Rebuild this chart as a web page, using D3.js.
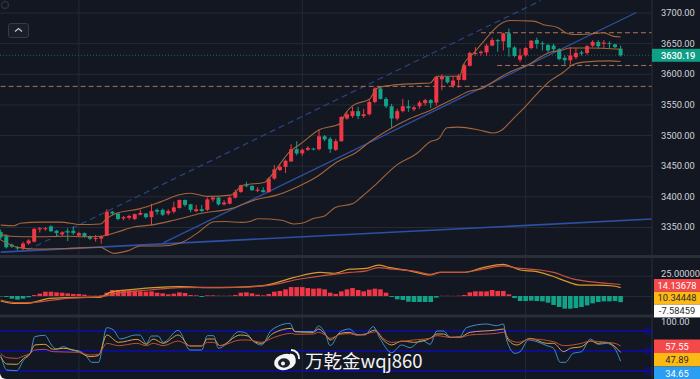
<!DOCTYPE html>
<html>
<head>
<meta charset="utf-8">
<script src="https://cdn.jsdelivr.net/npm/d3@7"></script>
<style>
  html, body { margin: 0; padding: 0; background: #ffffff; overflow: hidden; }
  text { font-family: Roboto, "Liberation Sans", sans-serif; }
</style>
</head>
<body>
<div id="container"></div>
<script>
// candles, red = up, green = down
let openPrice = [
  3342,3335,3321,3317,3315,3323,3326,3346,3347,3351,
  3344,3338,3343,3344,3336,3340,3335,3331,3331,3336,
  3375,3372,3364,3365,3363,3370,3372,3366,3378,3378,
  3372,3375,3381,3394,3387,3376,3379,3378,3395,3398,
  3387,3388,3398,3407,3418,3417,3409,3410,3407,3429,
  3443,3448,3457,3477,3470,3476,3478,3477,3498,3494,
  3476,3490,3527,3531,3539,3531,3534,3554,3576,3559,
  3547,3527,3539,3547,3542,3547,3552,3557,3553,3591,
  3595,3580.5,3590,3590,3613,3633,3634,3635,3646,3655,
  3653,3666,3643,3623,3630,3642,3655,3650,3647,3646,
  3640,3626,3622,3627,3635,3634,3646,3652,3649,3650,
  3648,3641
];
let closePrice = [
  3333,3317,3318,3315,3323,3328,3347,3348,3348,3343,
  3340,3341,3341,3340,3340,3334,3331,3332,3335,3375,
  3372,3363,3366,3368,3371,3373,3366,3376,3375,3370,
  3376,3382,3394,3386,3378,3379,3376,3395,3398,3387,
  3390,3398,3407,3418,3417,3410,3411,3407,3429,3444,
  3448,3458,3477,3470,3476,3479,3477,3498,3493,3477,
  3490,3529.5,3534,3539,3531,3534,3554,3576,3559,3547,
  3527,3539,3547,3544,3545,3553,3557,3552,3595,3595,
  3586,3589,3597,3614,3634,3634,3636,3646,3655,3653,
  3666,3643,3629,3630,3642,3654,3649,3649,3638,3640,
  3624,3622,3630,3634,3633,3645,3652,3645,3651,3649,
  3643.5,3630.19
];
let highPrice = [
  3346,3338,3323,3319,3326,3330,3348,3350,3350,3353,
  3345,3343,3348,3351,3342,3341,3336,3337,3336,3379,
  3376,3373,3368,3370,3372,3378,3373,3388,3380,3380,
  3379,3391,3395,3395,3388,3386,3386,3398,3399,3399,
  3394,3400,3411,3419,3424,3418,3415,3415,3431,3451,
  3451,3460,3485,3490,3478,3482,3479,3509,3500,3497,
  3494,3531,3538,3546,3546,3543,3559,3578,3580,3562,
  3551,3543,3559,3557,3548,3556,3559,3559,3596,3599,
  3596,3596,3600,3616,3636,3643.5,3638,3649,3659,3657,
  3667,3674,3645,3641,3643.5,3655,3659,3653,3649,3649,
  3642,3630,3643.5,3642,3638,3647,3655,3655,3655,3653,
  3649,3646
];
let lowPrice = [
  3329,3315,3316,3312,3312,3321,3325,3341,3344,3342,
  3335,3334,3327,3337,3334,3333,3329,3326,3323,3335,
  3369,3361,3361,3362,3361,3369,3364,3353,3370,3368,
  3369,3372,3380,3383,3374,3374,3374,3376,3391,3385,
  3385,3387,3396,3406,3415,3409,3407,3406,3406,3427,
  3441,3438,3456,3467,3466,3474,3475,3475,3490,3471,
  3474,3489,3525,3528,3526,3528,3532,3552,3558,3544,
  3512,3524,3537,3538,3539,3543,3548,3544,3548,3573,
  3584,3577,3577,3589,3612,3630,3630,3629,3645,3636,
  3638,3628,3627,3619,3628,3640,3641,3638,3635,3635,
  3622,3615,3615,3624,3630,3631,3643.5,3641,3641,3642,
  3642,3628
];

// bollinger bands, read at bar index
let upperIdx = [0,2.4,3.5,7.1,10.7,14.3,17.9,19,20.6,25,28.6,32.2,34,37,41.2,43.4,47.3,48,52,53.6,56.9,60.8,61.7,63.1,66.1,67.3,69.7,74.5,76.9,78.1,82.2,82.8,84.6,86.4,88.2,90,91.2,95.4,97.2,99.6,101.4,102.5,105.5,108,109.7,111];
let upperVal = [3353,3352,3356,3358,3358,3354,3355,3364,3372,3380,3391,3403,3405,3400,3402,3418,3423,3429,3475,3485,3508,3519,3535,3548.5,3559,3576,3581,3584,3585,3596,3596,3614,3633,3652,3671,3684,3687,3686,3680,3676,3666,3664,3665,3667,3661,3660];
let middleIdx = [0,1.8,6,11.9,14.9,17.9,20.6,23.8,26.8,31,35.8,41.2,45.8,49.4,53,56.6,60.2,63.7,66.1,69.7,73.3,76.9,79.3,82.2,83.4,86.4,89.4,91.2,94.8,96.6,98.4,100.2,102,105.5,111];
let middleVal = [3338,3335,3334,3335,3334,3335,3341,3350,3353,3361,3372,3380,3395,3402,3415,3432,3456,3472,3489,3510,3527,3540,3551,3564,3570,3577,3594,3603,3616.5,3627,3635,3638,3642,3642,3640];
let lowerIdx = [0,3,6,11.9,17.9,19,20.3,22.7,25,28.6,32.2,35.2,38.2,40.2,43.1,44.6,46.1,50.3,52.4,53.9,56,58,59.9,63.1,64.6,67,70.9,74.5,76.9,78.4,79.9,82,85.8,88.2,89.7,91.8,93.9,96.6,97.8,100.8,102.5,104.3,109.1,111];
let lowerVal = [3329,3317,3314,3315,3317,3312,3307,3311,3319,3319,3324,3340,3358.5,3359,3357.5,3359,3363.4,3361,3355,3356,3364,3368,3382,3388.4,3399,3418,3451,3470,3489,3494,3512,3513,3508,3503.5,3508,3527,3546,3573,3584,3603,3615,3619,3621,3620];

// trend lines [bar index, price]
let baseTrend = [[0,3309],[116.6,3363]];
let riseTrend = [[29.1,3324],[113.8,3700]];
let dashTrend = [[4.7,3312],[96.7,3719.5]];

// dashed horizontal levels
let levelPrice = [3667,3613.6,3579.5];
let levelStart = [86,88.9,0];
let lastPrice = 3630.19;

// macd
let macdHist = [
  -0.5,-1.2,-3.3,-4.5,-3.3,-1.6,1.2,2.9,5.3,5.3,
  4.5,4.1,3.3,2.5,2.5,1.6,0.4,0.4,0.8,4.1,
  7.4,7.4,7,7,6.6,5.7,5.3,5.7,4.1,3.3,
  2,2.9,4.5,3.7,1.2,0.8,-1.2,0.8,0.8,0.4,
  0.3,0.4,1.2,4.1,4.5,3.3,1.6,0.8,2.5,5.3,
  6.2,8.2,11,11,11,9.8,9,9.4,8.2,4.1,
  2.5,5.7,8.2,9.8,7.4,5.7,7.8,9,8.2,4.1,
  -1.2,-4.1,-4.9,-7,-7.4,-7.4,-7.4,-7.4,-2,0.3,
  0.3,0.2,0.4,1.2,4.5,5.7,5.7,5.7,7.4,6.2,
  6.2,2,-2.5,-6.2,-6.2,-5.7,-6.2,-6.6,-8.2,-11,
  -13.5,-15.6,-15.6,-14.8,-13.5,-11.5,-9,-7.4,-6.6,-6.6,
  -6.2,-7.58
];
let difIdx = [0,2.3,4.7,8.8,14.8,17.8,19.6,23.8,32,37,41.7,47.6,52.4,57.2,59.6,62.5,65.5,67.6,69.7,73.3,76.9,78.7,82.8,86.4,90,93,96,99,101.3,103.7,106.7,109.7,111];
let difVal = [-6.2,-9,-9,-2.9,-1.6,-1.6,4.5,8.2,11.5,10.3,10.7,13.5,22.6,29,28,33,34,38,35,31,26,29,29,35,39,32,30,24,18,13.5,13.5,12.3,10.34];
let deaIdx = [0,2.9,5.9,11.8,17.8,20.8,26.7,32,41.7,47.6,53.6,59.6,62.5,65.5,67.6,70.3,74.5,76.9,78.7,82.8,86.4,90,93,96.6,99,102.5,105.5,108.5,111];
let deaVal = [-4.9,-8.2,-7.8,-2.9,-0.8,3.3,7.4,10.3,10.7,12.7,20.9,26.7,29,31,35,33,30,26.7,29,29,33,37,34,32,29,21,17.6,15.6,14.14];

// rsi
let rsiFastIdx = [0,1.1,2.9,4.1,5.3,6.1,7.9,9.1,10,11.2,12.7,13.9,15.4,16.3,17.5,19,20.2,21.4,24.1,24.9,26.1,27,28.2,29.1,31.8,33.9,36,37,38.1,39,40.5,42.6,44,45.2,46.7,48.5,51.8,52.7,56,56.9,58.1,59,60.8,62.5,63.7,65.2,66.7,67.9,70,71.8,73.3,75.4,76.9,78.1,79.3,80.5,82.2,83.4,87,88.8,90,90.6,92.1,93,94.5,96,97.8,99,100.2,101.1,102.5,104,105.6,107,108.5,109.7,111];
let rsiFastVal = [44,21.5,20.5,36.5,46.5,71.5,73.5,59,52.5,56.5,51.5,50.5,41.5,33,33,85,81.5,68,74,74,61.5,72.5,72.5,63,81,51.5,51.5,73,73,54,61.5,79,76.5,65,59,81.5,91.5,79,79,87.5,76.5,58,79,83,75,74,86.5,69,47.5,59,55,66.5,60,80,80,70.5,71.5,85,90.5,88,90.5,66.5,46.5,49,66.5,64,58,54,33,33,46.5,49,68,60,61.5,56.5,34.65];
let rsiMidIdx = [0,1.1,2.9,4.1,5.3,6.1,7.9,9.4,11.2,13.9,16,17.5,19,21.1,24.4,26.1,27.3,29.1,31.8,33.9,36,37,38.1,39.3,42.9,44.3,45.2,46.7,48.8,52.1,52.7,56,56.9,58.1,59,60.8,62.5,63.7,65.2,67,68.5,70,71.8,73.9,76.9,78.1,79.3,80.5,82.2,84,88.8,90,90.9,92.4,94.8,97.8,99,100.8,102,104,105.6,107,108.5,110,111];
let rsiMidVal = [41.5,30.5,30,39,46.5,59,60,52.5,54,49,41.5,43,74,63,67.5,60,68,61.5,74,57.5,57.5,68,68,58,74,72.5,65,61.5,76.5,84,79,78,83,75,66.5,76.5,78,74,75,81.5,66.5,59,65,63,69,75.5,75.5,70.5,70.5,78,81.5,83,66.5,59,69,61.5,61.5,49,54,56.5,65,61.5,63,56.5,47.89];
let rsiSlowIdx = [0,1.1,2.9,4.1,5.3,6.1,7.9,9.4,13.9,16,17.5,19,21.1,24.4,26.1,27.3,29.1,31.8,33.9,36,37,38.1,39.3,42.9,44.3,46.7,48.8,52.1,52.7,56,56.9,58.1,59,60.8,62.5,63.7,65.2,67.3,68.5,70,73.9,76.9,78.1,80.5,82.2,84,88.8,90,91.2,92.7,94.8,99,100.8,104,105.6,108.5,110,111];
let rsiSlowVal = [46.5,40,39,42.5,46.5,51.5,52.5,49,48,44,45,61.5,58,61.5,58,61.5,58,65,58,58,63,63,58,66.5,66.5,63,70,76.5,75,75.5,78,74,69,75,76,74,75.5,79,69,63,66.5,69,73,70.5,70.5,74,76.5,78,66.5,63,68,64,58,61.5,65,63,61.5,57.55];
let rsiLevels = [80,50,20];

// axis ticks and right side tags
let priceTicks = [3350,3400,3450,3500,3550,3600,3650,3700];
let gridBars = [14,54,94];
let macdTags = ["14.13678","10.34448","-7.58459"];
let rsiTags = ["57.55","47.89","34.65"];

let w = 700;
let h = 379;
let axisX = 652;

let viz = d3.select("#container")
  .append("svg")
  .attr("width", w)
  .attr("height", h)
  .style("display", "block");

// rounded bottom corners, the picture sits on white
viz.append("rect").attr("width", w).attr("height", h).attr("rx", 6).attr("fill", "#131722");
viz.append("rect").attr("width", w).attr("height", 40).attr("fill", "#131722");

let xScale = d3.scaleLinear().domain([0, 111]).range([0.7, 620.6]);
let yPrice = d3.scaleLinear().domain([3350, 3700]).range([227, 12.5]);
let yMacd = d3.scaleLinear().domain([0, 25]).range([296, 275.7]);
let yRsi = d3.scaleLinear().domain([20, 80]).range([371, 331]);

let gridColor = "#262a35";
let red = "#f23645";
let green = "#12a287";

// grid
let gridGroup = viz.append("g");
gridGroup.selectAll("line.v").data(gridBars).enter().append("line")
  .attr("class", "v")
  .attr("x1", d => xScale(d)).attr("x2", d => xScale(d))
  .attr("y1", 0).attr("y2", h)
  .attr("stroke", gridColor);
gridGroup.append("g")
  .call(d3.axisRight(yPrice).tickValues(priceTicks).tickSize(axisX).tickFormat(""))
  .call(g => g.select(".domain").remove())
  .selectAll("line").attr("stroke", gridColor);
gridGroup.append("g")
  .call(d3.axisRight(yMacd).tickValues([0, 25]).tickSize(axisX).tickFormat(""))
  .call(g => g.select(".domain").remove())
  .selectAll("line").attr("stroke", gridColor);

// clip so that the main pane stops at its borders
viz.append("clipPath").attr("id", "mainClip").append("rect")
  .attr("x", 0).attr("y", 0).attr("width", axisX).attr("height", 255);
let mainPane = viz.append("g").attr("clip-path", "url(#mainClip)");

// last price line
mainPane.append("line")
  .attr("x1", 0).attr("x2", axisX)
  .attr("y1", yPrice(lastPrice)).attr("y2", yPrice(lastPrice))
  .attr("stroke", "#1c8a76").attr("stroke-opacity", 0.7).attr("stroke-dasharray", "1 2");

// trend lines
let trendLine = d3.line().x(d => xScale(d[0])).y(d => yPrice(d[1]));
mainPane.append("path").attr("d", trendLine(baseTrend))
  .attr("fill", "none").attr("stroke", "#2d4fa6").attr("stroke-width", 1.6);
mainPane.append("path").attr("d", trendLine(riseTrend))
  .attr("fill", "none").attr("stroke", "#2d4f9e").attr("stroke-width", 1.3);
mainPane.append("path").attr("d", trendLine(dashTrend))
  .attr("fill", "none").attr("stroke", "#2a4580").attr("stroke-width", 1.2)
  .attr("stroke-dasharray", "6 4");

// dashed levels
mainPane.selectAll("line.level").data(levelPrice).enter().append("line")
  .attr("class", "level")
  .attr("x1", (d, i) => xScale(levelStart[i])).attr("x2", axisX)
  .attr("y1", d => yPrice(d)).attr("y2", d => yPrice(d))
  .attr("stroke", "#a8755a").attr("stroke-dasharray", "5 3");

// candles
let bars = d3.range(openPrice.length);
function barColor(i) {
  return closePrice[i] >= openPrice[i] ? red : green;
}
let candle = mainPane.selectAll("g.candle").data(bars).enter().append("g").attr("class", "candle");
candle.append("line")
  .attr("x1", i => xScale(i)).attr("x2", i => xScale(i))
  .attr("y1", i => yPrice(highPrice[i])).attr("y2", i => yPrice(lowPrice[i]))
  .attr("stroke", barColor);
candle.append("rect")
  .attr("x", i => xScale(i) - 2)
  .attr("width", 4)
  .attr("y", i => yPrice(Math.max(openPrice[i], closePrice[i])))
  .attr("height", i => Math.max(1, Math.abs(yPrice(openPrice[i]) - yPrice(closePrice[i]))))
  .attr("fill", barColor);

// bollinger bands
function drawLine(parent, idx, val, yScale, color, width) {
  let line = d3.line().x(d => xScale(d)).y((d, i) => yScale(val[i])).curve(d3.curveMonotoneX);
  parent.append("path").attr("d", line(idx))
    .attr("fill", "none").attr("stroke", color).attr("stroke-width", width);
}
drawLine(mainPane, upperIdx, upperVal, yPrice, "#a5653a", 1.1);
drawLine(mainPane, middleIdx, middleVal, yPrice, "#a5653a", 1.1);
drawLine(mainPane, lowerIdx, lowerVal, yPrice, "#a5653a", 1.1);

// macd pane
viz.selectAll("rect.hist").data(bars).enter().append("rect")
  .attr("class", "hist")
  .attr("x", i => xScale(i) - 2.3)
  .attr("width", 4.6)
  .attr("y", i => Math.min(yMacd(0), yMacd(macdHist[i])))
  .attr("height", i => Math.abs(yMacd(macdHist[i]) - yMacd(0)))
  .attr("fill", i => macdHist[i] >= 0 ? red : green);
drawLine(viz, difIdx, difVal, yMacd, "#d99a2b", 1.2);
drawLine(viz, deaIdx, deaVal, yMacd, "#c9523f", 1.2);

// rsi pane
viz.selectAll("line.rsiLevel").data(rsiLevels).enter().append("line")
  .attr("class", "rsiLevel")
  .attr("x1", 0).attr("x2", axisX)
  .attr("y1", d => yRsi(d)).attr("y2", d => yRsi(d))
  .attr("stroke", "#0c0cb0").attr("stroke-width", 1.4);
viz.selectAll("rect.rsiHandle").data(rsiLevels).enter().append("rect")
  .attr("class", "rsiHandle")
  .attr("x", 646).attr("width", 6)
  .attr("y", d => yRsi(d) - 3).attr("height", 6)
  .attr("fill", "none").attr("stroke", "#0c0cb0");
drawLine(viz, rsiFastIdx, rsiFastVal, yRsi, "#3f8fc8", 1);
drawLine(viz, rsiMidIdx, rsiMidVal, yRsi, "#d3a63a", 1);
drawLine(viz, rsiSlowIdx, rsiSlowVal, yRsi, "#bd5040", 1);

// pane separators and price axis border
viz.append("rect").attr("x", 0).attr("y", 255).attr("width", w).attr("height", 3).attr("fill", "#2a2e39");
viz.append("rect").attr("x", 0).attr("y", 314.5).attr("width", w).attr("height", 3).attr("fill", "#2a2e39");
viz.append("line").attr("x1", axisX).attr("x2", axisX).attr("y1", 0).attr("y2", h).attr("stroke", "#2a2e39");

// price axis labels
let labelColor = "#d1d4dc";
let labelSize = "9.3px";
let priceAxis = viz.append("g")
  .attr("transform", "translate(" + axisX + ",0)")
  .call(d3.axisRight(yPrice).tickValues(priceTicks).tickSize(0).tickPadding(9).tickFormat(d3.format(".2f")));
priceAxis.select(".domain").remove();
priceAxis.selectAll("text").attr("fill", labelColor).style("font-size", labelSize);

// nudged up a little so the tag below does not sit on it
let macdAxis = viz.append("g")
  .attr("transform", "translate(" + axisX + ",-2.5)")
  .call(d3.axisRight(yMacd).tickValues([25]).tickSize(0).tickPadding(9).tickFormat(d3.format(".5f")));
macdAxis.select(".domain").remove();
macdAxis.selectAll("text").attr("fill", labelColor).style("font-size", labelSize);

viz.append("text").text("100.00")
  .attr("x", 661).attr("y", 322).attr("dy", "0.32em")
  .attr("fill", labelColor).style("font-size", labelSize);

// tags on the right
function drawTag(y, height, label, bg, fg) {
  viz.append("rect").attr("x", 654).attr("y", y).attr("width", 46).attr("height", height).attr("fill", bg);
  viz.append("text").text(label)
    .attr("x", 677).attr("y", y + height / 2).attr("dy", "0.35em")
    .attr("text-anchor", "middle")
    .attr("fill", fg).style("font-size", labelSize);
}
viz.append("rect").attr("x", axisX).attr("y", yPrice(lastPrice) - 6.5).attr("width", 48).attr("height", 13).attr("fill", "#0f9f86");
viz.append("text").text(d3.format(".2f")(lastPrice))
  .attr("x", 661).attr("y", yPrice(lastPrice)).attr("dy", "0.35em")
  .attr("fill", "#ffffff").style("font-size", labelSize).style("font-weight", 500);

let macdBg = ["#f5484a", "#fdb913", "#ffffff"];
let macdFg = ["#ffffff", "#2a2a2a", "#2a2a2a"];
macdTags.forEach(function (label, i) {
  drawTag(279 + i * 12.8, 12.8, label, macdBg[i], macdFg[i]);
});
let rsiBg = ["#f5484a", "#fdb913", "#2a9df4"];
let rsiFg = ["#ffffff", "#2a2a2a", "#ffffff"];
rsiTags.forEach(function (label, i) {
  drawTag(339.5 + i * 13.5, 13.5, label, rsiBg[i], rsiFg[i]);
});

// collapse button top left
viz.append("rect").attr("x", 8.5).attr("y", 23.5).attr("width", 20).attr("height", 14).attr("rx", 2.5)
  .attr("fill", "#1a1e29").attr("stroke", "#363a46");
viz.append("path").attr("d", "M15,31.5 L18.5,28.5 L22,31.5")
  .attr("fill", "none").attr("stroke", "#c5c8d0").attr("stroke-width", 1.2);
viz.append("circle").attr("cx", 5).attr("cy", 5).attr("r", 3.5)
  .attr("fill", "none").attr("stroke", "#2c303c").attr("stroke-width", 1.5);

// weibo watermark
let logo = viz.append("g").attr("transform", "translate(285,362)");
logo.append("ellipse").attr("rx", 11).attr("ry", 8).attr("transform", "rotate(-12)").attr("fill", "#f4f4f4");
logo.append("ellipse").attr("cx", -1).attr("cy", 1).attr("rx", 6).attr("ry", 4.7).attr("fill", "#1c2029");
logo.append("circle").attr("cx", -2).attr("cy", 1.5).attr("r", 2).attr("fill", "#f4f4f4");
logo.append("path").attr("d", "M6,-12 A8,8 0 0 1 14,-3").attr("fill", "none").attr("stroke", "#f4f4f4").attr("stroke-width", 2);
logo.append("path").attr("d", "M5,-7.5 A4,4 0 0 1 9.5,-3").attr("fill", "none").attr("stroke", "#f4f4f4").attr("stroke-width", 1.6);
viz.append("text").text("万乾金wqj860")
  .attr("x", 305).attr("y", 367.5)
  .attr("fill", "#f2f2f2")
  .style("font-family", '"Noto Sans CJK SC", "Noto Sans", sans-serif')
  .style("font-size", "18.5px");
</script>
</body>
</html>
